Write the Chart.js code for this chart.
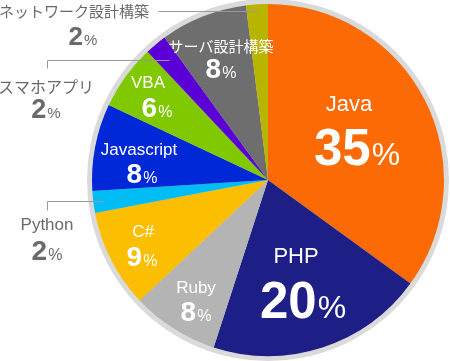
<!DOCTYPE html>
<html>
<head>
<meta charset="utf-8">
<script src="https://cdn.jsdelivr.net/npm/chart.js@4/dist/chart.umd.min.js"></script>
<style>
html,body{margin:0;padding:0;background:#fff;}
#wrap{width:450px;height:361px;position:relative;}
</style>
</head>
<body>
<div id="wrap"><canvas id="c" width="450" height="361"></canvas></div>
<script>
// ---- data ----
const categories = ['Java','PHP','Ruby','C#','Python','Javascript','VBA','スマホアプリ','サーバ設計構築','ネットワーク設計構築'];
const shares = [35, 20, 8, 9, 2, 8, 6, 2, 8, 2];
const sliceColors = ['#fb6a05','#1e1e87','#b4b4b4','#fbbe00','#00bef5','#0028d6','#80c800','#5a00d6','#6e6e6e','#b9b400'];

// ---- label layout (offsets from pie centre, baseline positions) ----
const labelLayout = [
  {name:[81,-69], pct:[89,-15], nameSize:22, numSize:51, pctSize:32, color:'#fff'},
  {name:[28,83], pct:[35,138], nameSize:22, numSize:51, pctSize:32, color:'#fff'},
  {name:[-72,113], pct:[-72,141], nameSize:17, numSize:28, pctSize:16, color:'#fff'},
  {name:[-125,57], pct:[-126,86], nameSize:17, numSize:28, pctSize:16, color:'#fff'},
  {name:[-221,50], pct:[-221,80], nameSize:17, numSize:28, pctSize:16, color:'#6a6a6a', outside:true, leader:{f:0.945, x:47, drop:9}},
  {name:[-129,-25], pct:[-126,3], nameSize:17, numSize:28, pctSize:16, color:'#fff'},
  {name:[-120,-92], pct:[-111,-63], nameSize:17, numSize:28, pctSize:16, color:'#fff'},
  {name:[-222,-87], pct:[-222,-62], nameSize:16, numSize:27, pctSize:15, color:'#6a6a6a', outside:true, leader:{f:0.885, x:47, drop:8}},
  {name:[-47,-128], pct:[-47,-102], nameSize:15, numSize:28, pctSize:16, color:'#fff'},
  {name:[-194,-163], pct:[-185,-135], nameSize:15, numSize:26, pctSize:15, color:'#6a6a6a', outside:true, leader:{f:0.96, x:158, drop:0}}
];

const latin = '"Liberation Sans", Arial, "Noto Sans CJK JP", sans-serif';

const ringPlugin = {
  id:'ring',
  beforeDatasetsDraw(chart){
    const arc = chart.getDatasetMeta(0).data[0];
    if(!arc) return;
    const ctx = chart.ctx;
    ctx.save();
    ctx.beginPath();
    ctx.arc(arc.x, arc.y, arc.outerRadius + 5, 0, Math.PI*2);
    ctx.fillStyle = '#dadada';
    ctx.fill();
    ctx.restore();
  }
};

const labelPlugin = {
  id:'labels',
  afterDatasetsDraw(chart){
    const meta = chart.getDatasetMeta(0);
    const ctx = chart.ctx;
    ctx.save();
    meta.data.forEach((arc, i) => {
      const L = labelLayout[i];
      const cx = arc.x, cy = arc.y;
      if (L.leader){
        const mid = (arc.startAngle + arc.endAngle)/2;
        const r = arc.outerRadius * L.leader.f;
        const ex = cx + Math.cos(mid)*r;
        const ey = cy + Math.sin(mid)*r;
        ctx.strokeStyle = '#999';
        ctx.lineWidth = 1;
        ctx.beginPath();
        ctx.moveTo(Math.round(ex)+0.5, Math.round(ey)+0.5);
        ctx.lineTo(L.leader.x+0.5, Math.round(ey)+0.5);
        if (L.leader.drop) ctx.lineTo(L.leader.x+0.5, Math.round(ey)+0.5+L.leader.drop);
        ctx.stroke();
      }
      ctx.fillStyle = L.color;
      ctx.textBaseline = 'alphabetic';
      ctx.textAlign = 'center';
      ctx.font = `${L.nameSize}px ${latin}`;
      ctx.fillText(categories[i], cx + L.name[0], cy + L.name[1]);
      const num = String(shares[i]);
      ctx.font = `bold ${L.numSize}px ${latin}`;
      const wNum = ctx.measureText(num).width;
      ctx.font = `${L.pctSize}px ${latin}`;
      const wPct = ctx.measureText('%').width;
      const total = wNum + wPct + 1;
      let x0 = cx + L.pct[0] - total/2;
      const by = cy + L.pct[1];
      ctx.textAlign = 'left';
      ctx.font = `bold ${L.numSize}px ${latin}`;
      ctx.fillText(num, x0, by);
      ctx.font = `${L.pctSize}px ${latin}`;
      ctx.fillText('%', x0 + wNum + 1, by);
    });
    ctx.restore();
  }
};

new Chart(document.getElementById('c'), {
  type:'pie',
  data:{
    labels: categories,
    datasets:[{
      data: shares,
      backgroundColor: sliceColors,
      borderWidth: 0
    }]
  },
  options:{
    responsive:false,
    animation:false,
    layout:{padding:{left:92, right:6, top:4, bottom:5}},
    plugins:{legend:{display:false}, tooltip:{enabled:false}}
  },
  plugins:[ringPlugin, labelPlugin]
});
</script>
</body>
</html>
